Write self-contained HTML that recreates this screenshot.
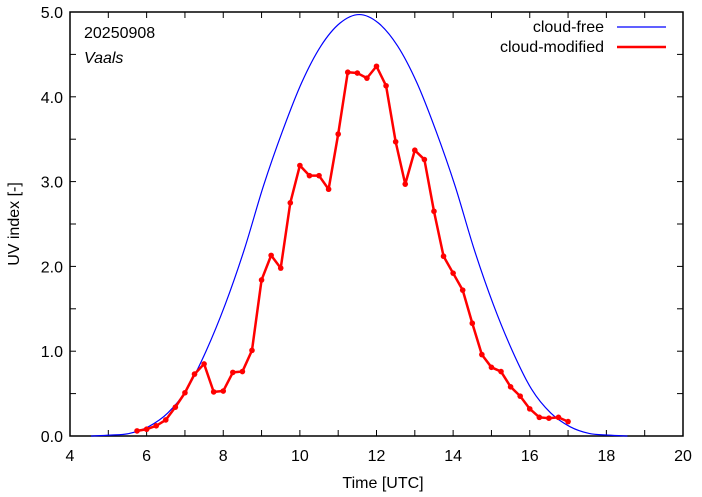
<!DOCTYPE html>
<html><head><meta charset="utf-8"><style>
body{margin:0;background:#fff}
svg{display:block;font-family:"Liberation Sans",sans-serif}
</style></head><body>
<svg id="chart" width="702" height="497" viewBox="0 0 702 497">
<rect width="702" height="497" fill="#fff"/>
<g id="axes"></g>
<g id="series"></g>
<text x="84" y="38" font-size="16">20250908</text>
<text x="84" y="63" font-size="16" font-style="italic">Vaals</text>
<g>
<text x="604" y="32" font-size="16" text-anchor="end">cloud-free</text>
<line x1="617" y1="27" x2="666" y2="27" stroke="#0000ff" stroke-width="1.2"/>
<text x="604" y="52" font-size="16" text-anchor="end">cloud-modified</text>
<line x1="617" y1="47" x2="666" y2="47" stroke="#ff0000" stroke-width="2.5"/>
</g>
<text x="383" y="488" font-size="16" text-anchor="middle">Time  [UTC]</text>
<text transform="translate(19,224) rotate(-90)" font-size="16" text-anchor="middle">UV index  [-]</text>
</svg>
<script>
const clearTimes=[4.55,5.05,5.55,6.05,6.55,7.05,7.55,8.05,8.55,9.05,9.55,10.05,10.55,11.05,11.55,12.05,12.55,13.05,13.55,14.05,14.55,15.05,15.55,16.05,16.55,17.05,17.55,18.05,18.55];
const clearValues=[0,0.01,0.03,0.11,0.27,0.55,1.0,1.55,2.2,2.95,3.6,4.17,4.6,4.87,4.97,4.87,4.6,4.17,3.6,2.95,2.2,1.55,1.0,0.55,0.27,0.11,0.03,0.01,0];
const cloudTimes=[5.75,6,6.25,6.5,6.75,7,7.25,7.5,7.75,8,8.25,8.5,8.75,9,9.25,9.5,9.75,10,10.25,10.5,10.75,11,11.25,11.5,11.75,12,12.25,12.5,12.75,13,13.25,13.5,13.75,14,14.25,14.5,14.75,15,15.25,15.5,15.75,16,16.25,16.5,16.75,17];
const cloudValues=[0.06,0.08,0.12,0.19,0.34,0.51,0.73,0.85,0.52,0.53,0.75,0.76,1.01,1.84,2.13,1.98,2.75,3.19,3.07,3.07,2.91,3.56,4.29,4.28,4.22,4.36,4.13,3.47,2.97,3.37,3.26,2.65,2.12,1.92,1.72,1.33,0.96,0.81,0.76,0.58,0.47,0.32,0.22,0.21,0.22,0.17];
const xTickLabels=[4,6,8,10,12,14,16,18,20];
const yTickLabels=["0.0","1.0","2.0","3.0","4.0","5.0"];
const L=70,R=683,T=12,B=436,X0=4,X1=20,Y0=0,Y1=5;
const sx=v=>L+(v-X0)/(X1-X0)*(R-L);
const sy=v=>B-(v-Y0)/(Y1-Y0)*(B-T);
const NS="http://www.w3.org/2000/svg";
function mk(tag,attrs,parent){const e=document.createElementNS(NS,tag);for(const k in attrs)e.setAttribute(k,attrs[k]);parent.appendChild(e);return e;}
const axes=document.getElementById('axes'),series=document.getElementById('series');
for(let x=X0;x<=X1;x++){
 const t1=mk('line',{x1:sx(x),x2:sx(x),y1:B,y2:B-6,stroke:'#000','stroke-width':1},axes);
 
 
 const t2=mk('line',{x1:sx(x),x2:sx(x),y1:T,y2:T+6,stroke:'#000','stroke-width':1},axes);
 
 
}
xTickLabels.forEach(v=>{const t=mk('text',{x:sx(v),y:B+25,'font-size':16,'text-anchor':'middle'},axes);t.textContent=v;
 
 });
for(let i=0;i<=10;i++){const y=i*0.5;
 const t1=mk('line',{x1:L,x2:L+6,y1:sy(y),y2:sy(y),stroke:'#000','stroke-width':1},axes);
 
 
 const t2=mk('line',{x1:R,x2:R-6,y1:sy(y),y2:sy(y),stroke:'#000','stroke-width':1},axes);
 
 }
yTickLabels.forEach(s=>{const t=mk('text',{x:L-7,y:sy(parseFloat(s))+6,'font-size':16,'text-anchor':'end'},axes);t.textContent=s;
 
 });
const fr=mk('rect',{x:L,y:T,width:R-L,height:B-T,fill:'none',stroke:'#000','stroke-width':1.5},axes);


// smooth clear-sky curve (Catmull-Rom)
const P=clearTimes.map((t,i)=>[sx(t),sy(clearValues[i])]);
let d=`M${P[0][0]},${P[0][1]}`;
for(let i=0;i<P.length-1;i++){const p0=P[Math.max(0,i-1)],p1=P[i],p2=P[i+1],p3=P[Math.min(P.length-1,i+2)];
 d+=` C${p1[0]+(p2[0]-p0[0])/6},${p1[1]+(p2[1]-p0[1])/6} ${p2[0]-(p3[0]-p1[0])/6},${p2[1]-(p3[1]-p1[1])/6} ${p2[0]},${p2[1]}`;}
const cf=mk('path',{d:d,fill:'none',stroke:'#0000ff','stroke-width':1.2},series);


const cm=mk('polyline',{points:cloudTimes.map((t,i)=>sx(t)+','+sy(cloudValues[i])).join(' '),fill:'none',stroke:'#ff0000','stroke-width':2.5,'stroke-linejoin':'round'},series);


cloudTimes.forEach((t,i)=>{const c=mk('circle',{cx:sx(t),cy:sy(cloudValues[i]),r:2.8,fill:'#ff0000'},series);
 
 });
</script>
</body></html>
